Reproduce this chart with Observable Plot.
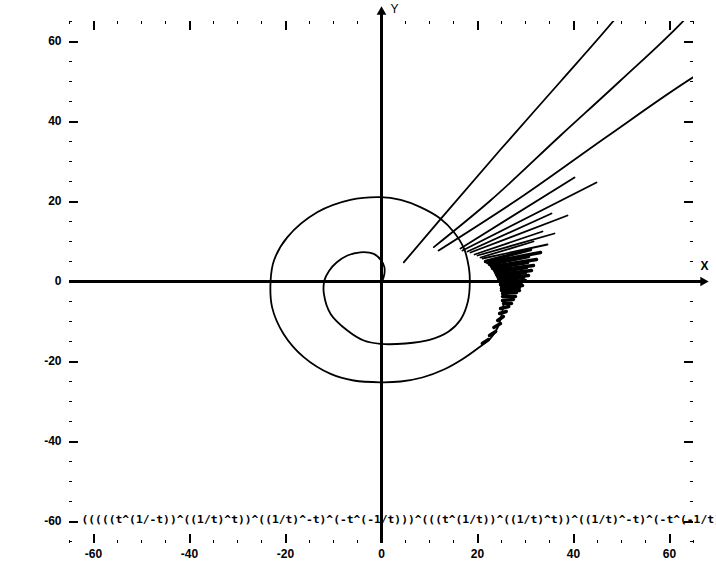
<!DOCTYPE html>
<html><head><meta charset="utf-8">
<script src="https://cdn.jsdelivr.net/npm/d3@7"></script>
<script src="https://cdn.jsdelivr.net/npm/@observablehq/plot@0.6"></script>
<style>html,body{margin:0;padding:0;background:#fff;overflow:hidden;width:716px;height:565px}</style>
</head><body><div id="chart"></div>
<script>
// Spiral part of the curve (origin outward)
const spiralX = [0.2,0.6,0.6,0.0,-1.6,-4.4,-7.1,-9.3,-10.9,-11.9,-12.0,-10.6,-7.1,-3.7,-0.2,5.0,10.0,14.0,16.5,18.0,18.4,18.2,17.2,15.1,12.3,8.1,4.0,-0.2,-6.5,-13.4,-19.6,-22.4,-23.1,-22.8,-20.4,-16.2,-10.6,-5.8,-0.2,4.0,8.5,13.0,17.0,20.3,22.7,24.2,25.0,25.5];
const spiralY = [0.2,1.9,3.6,5.2,6.9,7.3,6.5,4.8,2.7,0.25,-3.1,-8.1,-12.25,-14.75,-15.6,-15.5,-14.6,-12.5,-9.5,-5.0,0.0,3.5,8.2,12.3,15.7,18.6,20.4,21.1,20.4,17.3,11.1,5.25,0.25,-6.4,-13.1,-18.9,-23.1,-24.75,-25.2,-25.0,-24.0,-22.0,-19.3,-16.5,-14.25,-11.5,-8.5,-5.0];

// Long rays leaving the chart
const rayAX = [4.65,12.3,24.8,37.3,48.4,49.2];
const rayAY = [4.8,15.6,33.0,50.0,65.25,66.4];
const rayBX = [10.9,22.7,37.3,49.8,62.6,63.4];
const rayBY = [8.6,20.25,36.5,50.25,64.8,65.8];
const rayCX = [11.9,29.6,47.0,65.0,66.2];
const rayCY = [7.75,21.5,36.25,51.1,52.0];

// Fan of short strokes (left end -> right end)
const fanLeftX  = [16.46,16.88,17.92,18.54,19.38,20.0,20.63,21.04,21.67,22.08,22.5,22.92,23.13,23.54,23.75,23.96,24.17,24.38,24.58,24.79,24.79,25.0,25.0,25.0,25.21,25.21,25.21,25.42,24.8,24.6,24.2,23.4,22.5,21.0];
const fanLeftY  = [8.25,7.75,7.5,7.25,6.75,6.5,6.0,5.75,5.0,4.75,4.25,3.75,3.25,2.75,2.25,1.75,1.25,0.75,0.25,-0.25,-0.75,-1.25,-1.75,-2.25,-3.0,-3.75,-4.75,-5.5,-6.75,-8.0,-9.75,-11.5,-13.5,-15.5];
const fanRightX = [40.21,44.79,35.42,38.75,33.54,36.04,31.67,34.58,31.04,33.13,30.63,32.29,30.42,31.67,30.21,31.25,30.0,30.63,29.58,30.0,29.17,29.38,28.75,28.75,28.13,27.92,27.5,27.08,26.5,26.0,25.4,24.8,23.8,22.3];
const fanRightY = [26.0,24.75,17.0,16.5,12.5,12.0,10.0,9.25,8.0,7.25,6.25,5.5,4.75,4.0,3.5,2.75,2.25,1.5,1.0,0.25,-0.25,-1.0,-1.5,-2.25,-2.75,-3.75,-4.5,-5.5,-6.25,-7.5,-8.75,-10.5,-12.5,-14.5];

// Ticks and labels
const majorTicks = [-60,-40,-20,0,20,40,60];
const majorLabels = ["-60","-40","-20","0","20","40","60"];
const minorTicks = [-65,-55,-50,-45,-35,-30,-25,-15,-10,-5,5,10,15,25,30,35,45,50,55,65];
const formula = "(((((t^(1/-t))^((1/t)^t))^((1/t)^-t)^(-t^(-1/t)))^(((t^(1/t))^((1/t)^t))^((1/t)^-t)^(-t^(-1/t)))))";

// Build tables
const spiral = spiralX.map((x,i)=>({x, y: spiralY[i]}));
const rays = [];
[[rayAX,rayAY,"A"],[rayBX,rayBY,"B"],[rayCX,rayCY,"C"]].forEach(([xs,ys,id])=>xs.forEach((x,i)=>rays.push({x,y:ys[i],id})));
const fanTop = [], fanDense = [];
fanLeftX.forEach((x,i)=>{
  const t = i < 8 ? fanTop : fanDense;
  t.push({x, y: fanLeftY[i], id:i}); t.push({x: fanRightX[i], y: fanRightY[i], id:i});
});

const W=716,H=565,mL=69,mR=23,mT=21,mB=22;
const innerW=W-mL-mR, innerH=H-mT-mB;
const majLen=9, minLen=3;

const plot = Plot.plot({
  width: W, height: H,
  marginLeft: mL, marginRight: mR, marginTop: mT, marginBottom: mB,
  x: {domain: [-65,65], axis: null},
  y: {domain: [-65.5,65], axis: null},
  style: {fontFamily: "'Liberation Sans', Arial, sans-serif", fontSize: "12px", fontWeight: "bold", background: "white", color: "black", overflow: "hidden"},
  marks: [
    // axes through origin
    Plot.ruleY([0], {x1: -65, x2: 67, stroke: "black", strokeWidth: 2.5, shapeRendering: "crispEdges"}),
    Plot.ruleX([0], {y1: -65.5, y2: 67.4, stroke: "black", strokeWidth: 2.5, shapeRendering: "crispEdges"}),
    Plot.dot([{x:67, y:0, a:90},{x:0, y:67.4, a:0}], {x:"x", y:"y", rotate:"a", symbol:"triangle", r:3.6, fill:"black", stroke:null}),
    Plot.text(["X"], {x: 67.3, y: 3.8, text: d=>d, fontSize: 12}),
    Plot.text(["Y"], {x: 2.7, y: 68, text: d=>d, fontSize: 12, fontWeight: "normal"}),
    // frame ticks (inward)
    Plot.tickX(majorTicks, {x: d=>d, insetBottom: innerH-majLen, strokeWidth: 2, shapeRendering: "crispEdges"}),
    Plot.tickX(minorTicks, {x: d=>d, insetBottom: innerH-minLen, strokeWidth: 1, shapeRendering: "crispEdges"}),
    Plot.tickX(majorTicks, {x: d=>d, insetTop: innerH-majLen, strokeWidth: 2, shapeRendering: "crispEdges"}),
    Plot.tickX(minorTicks, {x: d=>d, insetTop: innerH-minLen, strokeWidth: 1, shapeRendering: "crispEdges"}),
    Plot.tickY(majorTicks, {y: d=>d, insetRight: innerW-majLen, strokeWidth: 2, shapeRendering: "crispEdges"}),
    Plot.tickY(minorTicks, {y: d=>d, insetRight: innerW-minLen, strokeWidth: 1, shapeRendering: "crispEdges"}),
    Plot.tickY(majorTicks, {y: d=>d, insetLeft: innerW-majLen, strokeWidth: 2, shapeRendering: "crispEdges"}),
    Plot.tickY(minorTicks, {y: d=>d, insetLeft: innerW-minLen, strokeWidth: 1, shapeRendering: "crispEdges"}),
    // tick labels
    Plot.text(majorTicks, {x: d=>d, text: (d,i)=>majorLabels[i], frameAnchor: "bottom", dy: 14.5}),
    Plot.text(majorTicks, {y: d=>d, text: (d,i)=>majorLabels[i], frameAnchor: "left", textAnchor: "end", dx: -8}),
    // the curve
    Plot.line(spiral, {x:"x", y:"y", curve: "catmull-rom", stroke:"black", strokeWidth: 1.8}),
    Plot.line(rays, {x:"x", y:"y", z:"id", curve: "monotone-x", stroke:"black", strokeWidth: 1.8, clip: true}),
    Plot.line(fanTop, {x:"x", y:"y", z:"id", stroke:"black", strokeWidth: 1.8}),
    Plot.line(fanDense, {x:"x", y:"y", z:"id", stroke:"black", strokeWidth: 3.4}),
    // formula caption
    Plot.text([formula], {frameAnchor: "bottom-left", textAnchor: "start", dx: 12, dy: -21, text: d=>d, fontFamily: "'DejaVu Sans Mono', monospace", fontSize: 11.3, fontWeight: "bold"})
  ]
});
document.getElementById("chart").appendChild(plot);
</script>
</body></html>
